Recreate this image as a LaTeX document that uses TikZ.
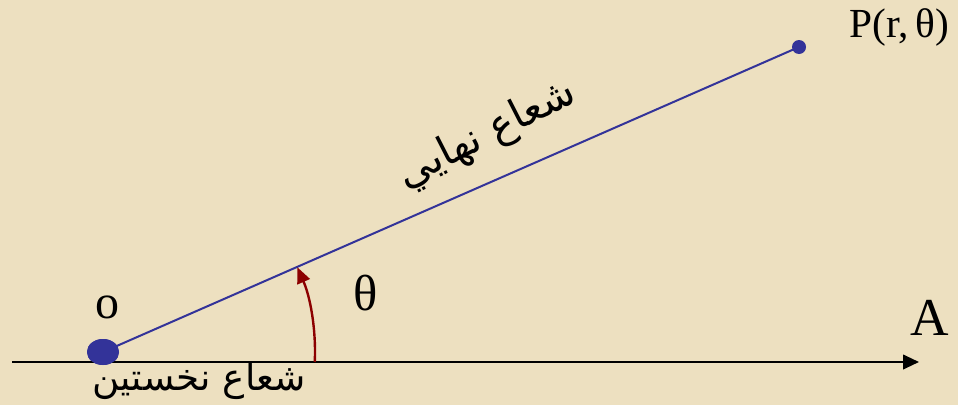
\documentclass[tikz,border=0pt]{standalone}
\usepackage{fontspec}
\setmainfont{Liberation Serif}
\newfontfamily\arabicfont[Script=Arabic]{DejaVu Sans}
\TeXXeTstate=1
\usetikzlibrary{arrows.meta,calc,shapes.geometric}

\definecolor{parchment}{RGB}{237,224,192}
\definecolor{raycol}{RGB}{51,51,153}
\definecolor{anglecol}{RGB}{140,0,0}

\begin{document}
\begin{tikzpicture}[
  x=0.75pt, y=0.75pt,
  axis/.style={-{Triangle[length=12pt, width=11pt]}, line width=1.5pt},
  ray/.style={draw=raycol, line width=1.5pt},
  angarc/.style={draw=anglecol, line width=1.8pt, -{Triangle[length=12pt, width=10pt]}},
  dot/.style={ellipse, fill=raycol, inner sep=0pt},
  lbl/.style={font=\fontsize{36}{40}\selectfont, inner sep=0pt},
  ar/.style={font=\fontsize{28}{30}\selectfont\arabicfont, inner sep=0pt},
]

% ---------------- background ----------------
\fill[parchment] (0,0) rectangle (958,405);
\useasboundingbox (0,0) rectangle (958,405);

% ---------------- points ----------------
\node[dot, minimum width=24pt, minimum height=19.5pt] (O) at (103,53) {};
\node[dot, minimum size=10.5pt] (P) at (799,358) {};
\coordinate (ax0) at (12,43);
\coordinate (ax1) at (919,43);

% initial ray and terminal ray
\draw[axis] (ax0) -- (ax1);
\draw[ray] (O.center) -- (P.center);
\node[dot, minimum width=24pt, minimum height=19.5pt] at (O) {};

% angle theta
\coordinate (a0) at ($(O.center)+(-2.7:212)$);
\draw[angarc] (a0) arc[start angle=-2.7, end angle=23.6, radius=212];

% ---------------- labels ----------------
\node[lbl] (lo) at (107,98) {o};
\node[lbl, font=\fontsize{38}{42}\selectfont] (lth) at (366,112) {θ};
\node[lbl, font=\fontsize{40}{44}\selectfont] (lA) at (930,87) {A};
\node[lbl, font=\fontsize{31}{34}\selectfont, anchor=west] (lP) at (849,378) {P(r,\,θ)};
\node[ar, rotate=27, font=\fontsize{31}{34}\selectfont\arabicfont] (lterm) at (487,270) {\beginR شعاع نهايي\endR};
\node[ar] (linit) at (199,24) {\beginR شعاع نخستين\endR};

\end{tikzpicture}
\end{document}
